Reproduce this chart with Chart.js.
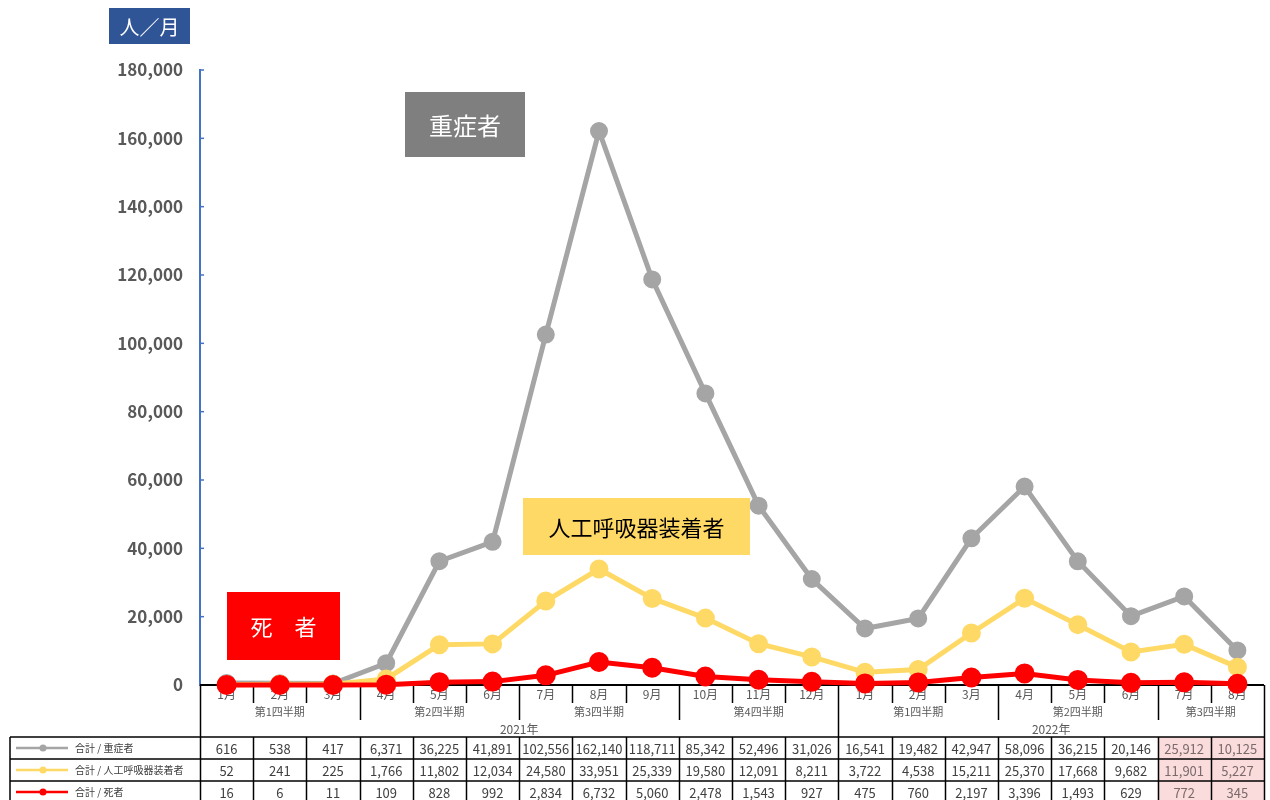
<!DOCTYPE html>
<html>
<head>
<meta charset="utf-8">
<script src="https://cdn.jsdelivr.net/npm/chart.js@4/dist/chart.umd.min.js"></script>
<style>
  body { margin: 0; background: #fff; }
  canvas { display: block; }
</style>
</head>
<body>
<canvas id="chart" width="1270" height="800"></canvas>
<script>
const months = ['1月', '2月', '3月', '4月', '5月', '6月', '7月', '8月', '9月', '10月', '11月', '12月',
  '1月', '2月', '3月', '4月', '5月', '6月', '7月', '8月']
const quarters = ['第1四半期', '第2四半期', '第3四半期', '第4四半期', '第1四半期', '第2四半期', '第3四半期']
const quarterStart = [0, 3, 6, 9, 12, 15, 18]
const years = ['2021年', '2022年']
const yearStart = [0, 12]

const severe = [616, 538, 417, 6371, 36225, 41891, 102556, 162140, 118711, 85342, 52496, 31026,
  16541, 19482, 42947, 58096, 36215, 20146, 25912, 10125]
const ventilator = [52, 241, 225, 1766, 11802, 12034, 24580, 33951, 25339, 19580, 12091, 8211,
  3722, 4538, 15211, 25370, 17668, 9682, 11901, 5227]
const deaths = [16, 6, 11, 109, 828, 992, 2834, 6732, 5060, 2478, 1543, 927,
  475, 760, 2197, 3396, 1493, 629, 772, 345]

const highlightFrom = 18   // last two columns shaded pink

const FONT = '"Noto Sans CJK JP", "Noto Sans", sans-serif'
const fmt = v => v.toLocaleString('en-US')

const series = [
  { label: '合計 / 重症者', data: severe, color: '#A5A5A5', radius: 6.5 },
  { label: '合計 / 人工呼吸器装着者', data: ventilator, color: '#FFD966', radius: 7 },
  { label: '合計 / 死者', data: deaths, color: '#FF0000', radius: 7.5 }
]

function box(ctx, x, y, w, h, fill, text, color, size) {
  ctx.fillStyle = fill
  ctx.fillRect(x, y, w, h)
  ctx.fillStyle = color
  ctx.font = `${size}px ${FONT}`
  ctx.textAlign = 'center'
  ctx.textBaseline = 'middle'
  ctx.fillText(text, x + w / 2, y + h / 2 + 1)
}

const tablePlugin = {
  id: 'dataTable',
  beforeDatasetsDraw(chart) {
    const { ctx, chartArea, scales: { x, y } } = chart
    const top = chartArea.bottom
    const right = chartArea.right
    const step = x.getPixelForValue(1) - x.getPixelForValue(0)
    const edge = i => x.getPixelForValue(i) - step / 2
    const n = months.length

    const monthY = top + 9, tickEnd = top + 18
    const quarterY = top + 27, quarterEnd = top + 35
    const yearY = top + 44, yearEnd = top + 52
    const rowH = 22

    ctx.save()

    // pink shaded cells
    ctx.fillStyle = '#FBDCDC'
    ctx.fillRect(edge(highlightFrom), yearEnd, right - edge(highlightFrom), rowH * 3 + 10)

    // inward y ticks
    ctx.strokeStyle = '#4472C4'
    ctx.lineWidth = 1.5
    y.ticks.forEach(t => {
      const py = y.getPixelForValue(t.value)
      ctx.beginPath()
      ctx.moveTo(chartArea.left, py)
      ctx.lineTo(chartArea.left + 4, py)
      ctx.stroke()
    })

    ctx.strokeStyle = '#000'
    ctx.lineWidth = 1.5
    const line = (x1, y1, x2, y2) => {
      ctx.beginPath(); ctx.moveTo(x1, y1); ctx.lineTo(x2, y2); ctx.stroke()
    }

    // category axis: month ticks, quarter and year separators
    for (let i = 0; i <= n; i++) {
      const px = Math.round(edge(i)) + 0.5
      let end = tickEnd
      if (quarterStart.includes(i)) end = quarterEnd
      if (yearStart.includes(i) || i === n) end = yearEnd
      line(px, top, px, end)
    }
    ctx.lineWidth = 2
    line(chartArea.left, top, right, top)

    ctx.fillStyle = '#595959'
    ctx.textAlign = 'center'
    ctx.textBaseline = 'middle'
    ctx.font = `12px ${FONT}`
    months.forEach((m, i) => ctx.fillText(m, x.getPixelForValue(i), monthY))
    ctx.font = `11px ${FONT}`
    quarters.forEach((q, k) => {
      const s = quarterStart[k]
      const e = k + 1 < quarterStart.length ? quarterStart[k + 1] : n
      ctx.fillText(q, (edge(s) + edge(e)) / 2, quarterY)
    })
    ctx.font = `12px ${FONT}`
    years.forEach((yr, k) => {
      const s = yearStart[k]
      const e = k + 1 < yearStart.length ? yearStart[k + 1] : n
      ctx.fillText(yr, (edge(s) + edge(e)) / 2, yearY)
    })

    // data rows
    ctx.lineWidth = 1.5
    ctx.strokeStyle = '#000'
    for (let r = 0; r <= 3; r++) line(10, yearEnd + r * rowH, right, yearEnd + r * rowH)
    line(10, yearEnd, 10, 800)
    for (let i = 0; i <= n; i++) {
      const px = Math.round(edge(i)) + 0.5
      line(px, yearEnd, px, 800)
    }

    series.forEach((s, r) => {
      const cy = yearEnd + r * rowH + rowH / 2
      // legend sample
      ctx.strokeStyle = s.color
      ctx.fillStyle = s.color
      ctx.lineWidth = 2.5
      line(16, cy, 68, cy)
      ctx.beginPath(); ctx.arc(43, cy, 3.5, 0, Math.PI * 2); ctx.fill()
      ctx.fillStyle = '#404040'
      ctx.font = `10px ${FONT}`
      ctx.textAlign = 'left'
      ctx.fillText(s.label, 75, cy)
      ctx.font = `13px ${FONT}`
      ctx.textAlign = 'center'
      s.data.forEach((v, i) => {
        ctx.fillStyle = i >= highlightFrom ? '#7a6a6a' : '#404040'
        ctx.fillText(fmt(v), x.getPixelForValue(i), cy + 1)
      })
    })

    ctx.restore()
  },
  afterDraw(chart) {
    const { ctx } = chart
    ctx.save()
    box(ctx, 109, 8, 81, 36, '#2F5597', '人／月', '#fff', 20)
    box(ctx, 405, 92, 120, 65, '#7F7F7F', '重症者', '#fff', 24)
    box(ctx, 523, 498, 227, 57, '#FFD966', '人工呼吸器装着者', '#000', 22)
    box(ctx, 227, 592, 113, 68, '#FF0000', '死　者', '#fff', 22)
    ctx.restore()
  }
}

new Chart(document.getElementById('chart'), {
  type: 'line',
  data: {
    labels: months,
    datasets: series.map((s, i) => ({
      label: s.label,
      data: s.data,
      borderColor: s.color,
      backgroundColor: s.color,
      pointBackgroundColor: s.color,
      pointBorderColor: s.color,
      pointRadius: s.radius,
      borderWidth: 5,
      tension: 0,
      clip: false,
      order: 3 - i
    }))
  },
  options: {
    responsive: false,
    animation: false,
    devicePixelRatio: 1,
    layout: { autoPadding: false, padding: { top: 70, right: 6, bottom: 115, left: 0 } },
    plugins: { legend: { display: false }, tooltip: { enabled: false } },
    scales: {
      x: { display: false, offset: true },
      y: {
        min: 0,
        max: 180000,
        afterFit(scale) { scale.width = 200 },
        ticks: {
          stepSize: 20000,
          padding: 17,
          color: '#595959',
          font: { family: FONT, size: 17, weight: 'bold' },
          callback: v => fmt(v)
        },
        grid: { display: false, drawTicks: false },
        border: { color: '#4472C4', width: 2 }
      }
    }
  },
  plugins: [tablePlugin]
})
</script>
</body>
</html>
